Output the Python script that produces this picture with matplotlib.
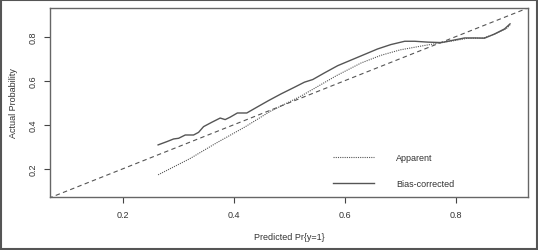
import numpy as np
from matplotlib import pyplot as plt
from matplotlib.patches import Rectangle

plt.rcParams['font.family'] = ['Liberation Sans', 'DejaVu Sans']

# bias-corrected calibration curve
bias_x = [0.263, 0.279, 0.291, 0.300, 0.312, 0.327, 0.336, 0.345, 0.360, 0.375, 0.384, 0.393,
          0.406, 0.423, 0.441, 0.462, 0.485, 0.509, 0.527, 0.542, 0.563, 0.587, 0.623, 0.659,
          0.683, 0.708, 0.726, 0.750, 0.774, 0.792, 0.816, 0.834, 0.852, 0.870, 0.888, 0.898]
bias_y = [0.308, 0.323, 0.335, 0.338, 0.353, 0.353, 0.365, 0.391, 0.411, 0.430, 0.423, 0.434,
          0.453, 0.453, 0.479, 0.509, 0.540, 0.570, 0.593, 0.605, 0.635, 0.668, 0.706, 0.744,
          0.764, 0.779, 0.779, 0.775, 0.773, 0.782, 0.794, 0.794, 0.793, 0.812, 0.835, 0.858]

# apparent calibration curve
app_x = [0.263, 0.320, 0.369, 0.420, 0.465, 0.521, 0.585, 0.629, 0.665, 0.700, 0.744, 0.780,
         0.800, 0.820, 0.850, 0.870, 0.890, 0.898]
app_y = [0.172, 0.245, 0.318, 0.390, 0.460, 0.530, 0.623, 0.680, 0.715, 0.740, 0.760, 0.775,
         0.783, 0.792, 0.794, 0.811, 0.834, 0.852]

ideal = [0, 1]
xticks = [0.2, 0.4, 0.6, 0.8]
yticks = [0.2, 0.4, 0.6, 0.8]

fig = plt.figure(figsize=(5.38, 2.51), dpi=100)
ax = fig.add_axes([0.093, 0.211, 0.888, 0.753])

grey = '#555555'
ax.plot(ideal, ideal, color=grey, lw=0.8, linestyle=(0, (4, 3)))
ax.plot(app_x, app_y, color=grey, lw=0.8, linestyle=(0, (1, 1)), label='Apparent')
ax.plot(bias_x, bias_y, color=grey, lw=1.0, label='Bias-corrected')

ax.set_xlim(0.068, 0.93)
ax.set_ylim(0.071, 0.93)
ax.set_xticks(xticks)
ax.set_yticks(yticks)
ax.set_xticklabels([str(t) for t in xticks])
ax.set_yticklabels([str(t) for t in yticks], rotation=90, va='center')
ax.tick_params(length=4, width=0.8, colors='#444444', labelsize=6.5, labelcolor='#333333')
ax.tick_params(axis='x', pad=5)
ax.tick_params(axis='y', pad=5)
for s in ax.spines.values():
    s.set_color('#666666')
    s.set_linewidth(1.0)

ax.set_xlabel('Predicted Pr{y=1}', fontsize=6.5, color='#333333')
ax.xaxis.set_label_coords(0.5, -0.185)
ax.set_ylabel('Actual Probability', fontsize=6.5, color='#333333')
ax.yaxis.set_label_coords(-0.068, 0.5)

ax.legend(loc='center left', bbox_to_anchor=(0.575, 0.14), frameon=False, fontsize=6.5,
          handlelength=4.6, handletextpad=2.4, labelspacing=1.8, labelcolor='#333333')

fig.add_artist(Rectangle((0.002, 0.004), 0.996, 0.992, transform=fig.transFigure,
                         fill=False, edgecolor='#555555', lw=1.5))

plt.savefig('out.png', dpi=100)
